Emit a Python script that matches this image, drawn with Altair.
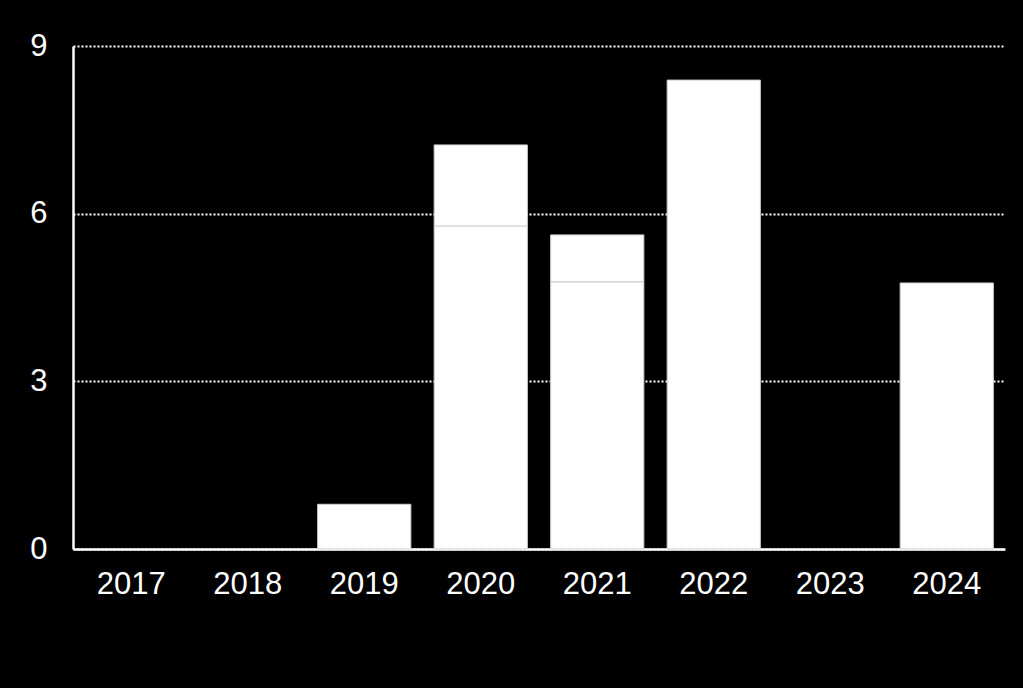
import altair as alt
import pandas as pd
import jinja2

years = ["2017", "2018", "2019", "2020", "2021", "2022", "2023", "2024"]
series_a = [0, 0, 0.8, 5.78, 4.78, 8.39, 0, 4.76]
series_b = [0, 0, 0, 1.45, 0.84, 0, 0, 0]

rows = []
for y, a, b in zip(years, series_a, series_b):
    rows.append({"year": y, "series": "A", "order": 0, "value": a})
    rows.append({"year": y, "series": "B", "order": 1, "value": b})
df = pd.DataFrame(rows)
df = df[df["value"] > 0]

chart = alt.Chart(df).mark_bar(color="white", stroke="#cfcfcf", strokeWidth=1).encode(
    x=alt.X("year:N", sort=years, title=None,
            scale=alt.Scale(domain=years, paddingInner=0.2, paddingOuter=0.1),
            axis=alt.Axis(labelAngle=0, labelFontSize=31, labelColor="white",
                          labelFont="Liberation Sans", labelPadding=20,
                          ticks=False, domainColor="white", domainWidth=2.5, grid=False)),
    y=alt.Y("value:Q", stack="zero", title=None,
            scale=alt.Scale(domain=[0, 9], nice=False),
            axis=alt.Axis(values=[0, 3, 6, 9], labelFontSize=31, labelColor="white",
                          labelFont="Liberation Sans", labelPadding=26, ticks=False,
                          domainColor="white", domainWidth=2.5,
                          grid=True, gridColor="white", gridDash=[2, 2], gridWidth=2)),
    order=alt.Order("order:Q"),
).properties(
    width=932, height=503,
    background="black",
    autosize=alt.AutoSizeParams(type="none"),
    padding={"left": 65, "top": 38, "right": 10, "bottom": 125},
).configure_view(stroke=None)


class BlackPage(jinja2.Template):
    def render(self, *args, **kwargs):
        from altair.utils.html import HTML_TEMPLATE
        html = HTML_TEMPLATE.render(*args, **kwargs)
        return html.replace("<head>", "<head><style>html,body{background:#000;}</style>", 1)


try:
    chart.save("out.html", embed_options={"renderer": "svg", "actions": False},
               template=BlackPage("x"))
except Exception:
    chart.save("out.html", embed_options={"renderer": "svg", "actions": False})
